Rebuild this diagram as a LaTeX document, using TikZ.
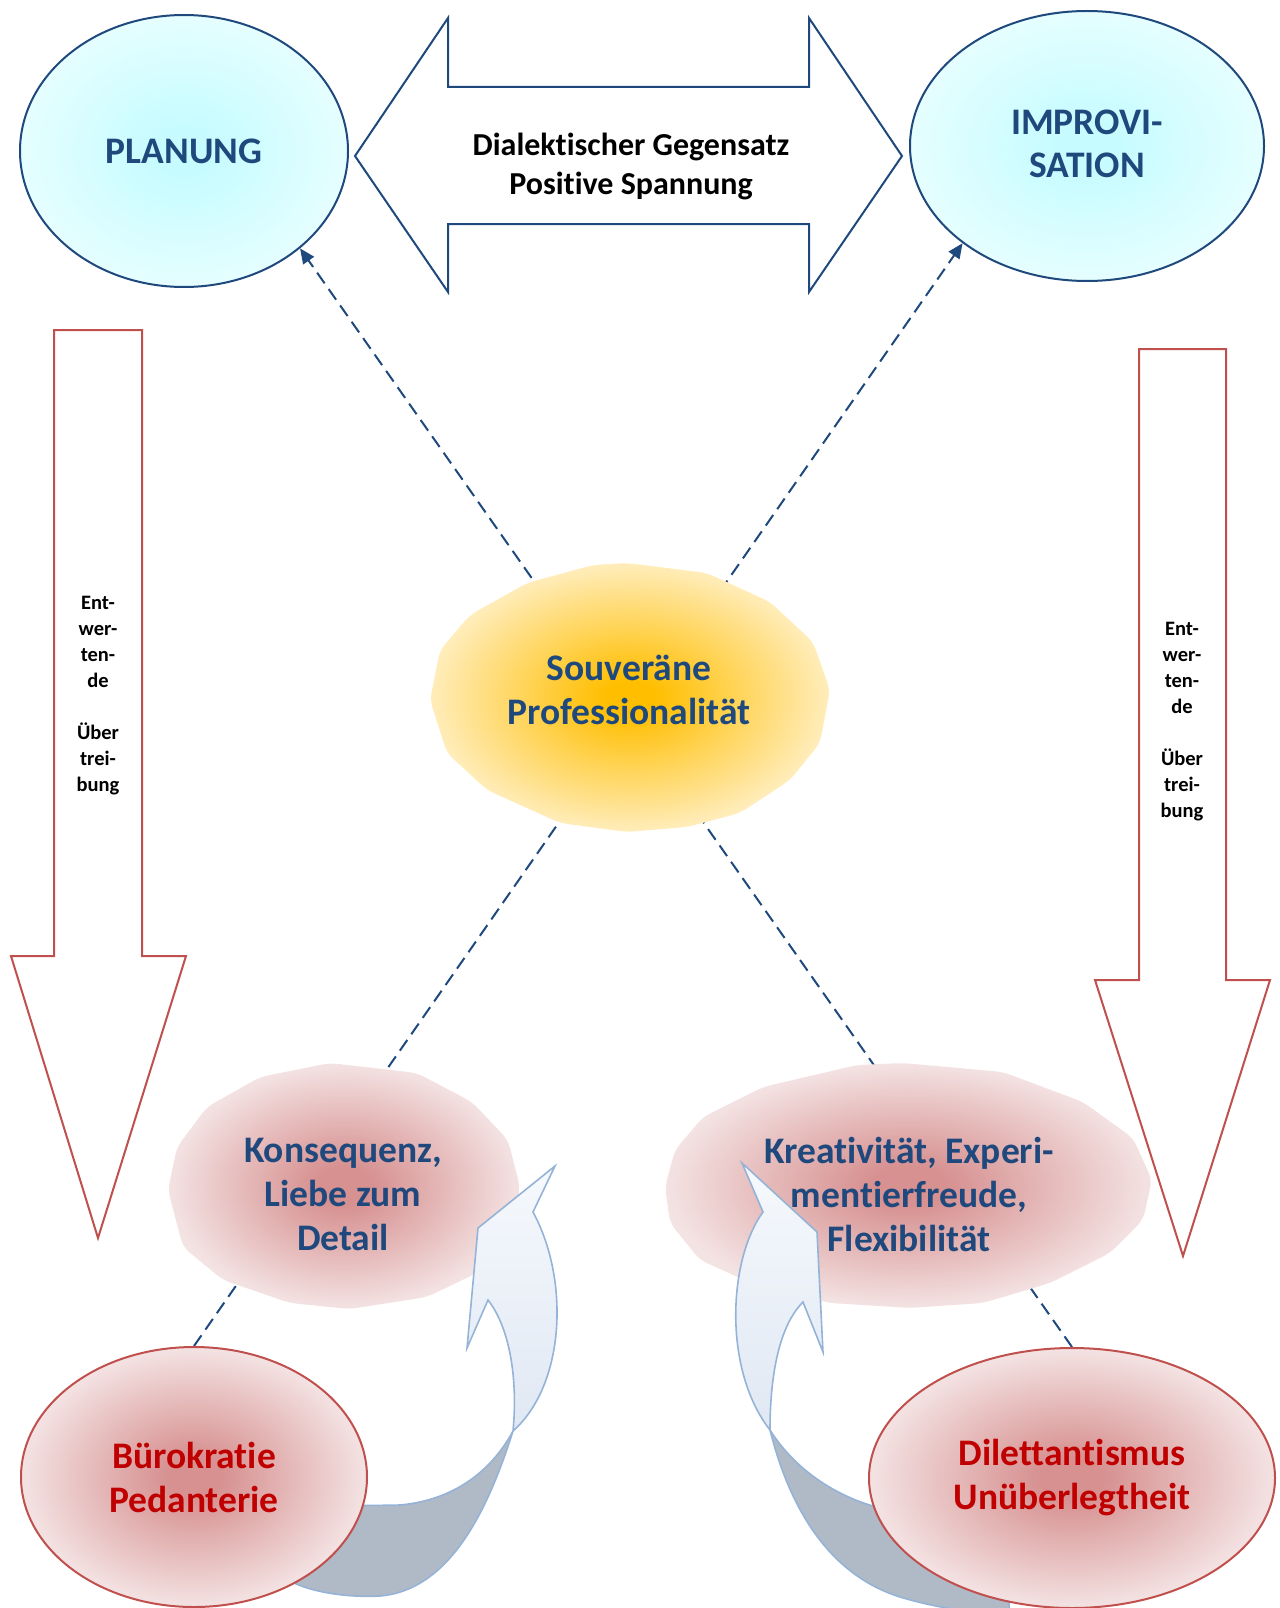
\documentclass[tikz,border=0pt]{standalone}
\usepackage{fontspec}
\setmainfont{Carlito}[Ligatures=NoCommon]
\usetikzlibrary{arrows.meta, shapes.geometric}
\pgfdeclarelayer{back}
\pgfsetlayers{back,main}

\definecolor{capblue}{RGB}{31,73,125}
\definecolor{txtred}{RGB}{192,0,0}
\definecolor{redline}{RGB}{192,80,77}
\definecolor{cyanin}{RGB}{198,252,255}
\definecolor{cyanout}{RGB}{243,255,255}
\definecolor{sunin}{RGB}{255,190,0}
\definecolor{sunout}{RGB}{255,241,204}
\definecolor{rosein}{RGB}{215,145,145}
\definecolor{roseout}{RGB}{244,227,227}
\definecolor{curvedge}{RGB}{149,179,215}
\definecolor{curvtop}{RGB}{246,249,253}
\definecolor{curvbot}{RGB}{224,232,243}
\definecolor{twistgrey}{RGB}{176,186,199}

\pgfdeclareradialshading{iceglow}{\pgfpoint{0bp}{0bp}}{color(0bp)=(cyanin); color(4bp)=(cyanin); color(34bp)=(cyanout); color(50bp)=(cyanout)}
\pgfdeclareradialshading{sunglow}{\pgfpoint{0bp}{0bp}}{color(0bp)=(sunin); color(3bp)=(sunin); color(27bp)=(sunout); color(50bp)=(sunout)}
\pgfdeclareradialshading{roseglow}{\pgfpoint{0bp}{0bp}}{color(0bp)=(rosein); color(4bp)=(rosein); color(25bp)=(roseout); color(50bp)=(roseout)}

\begin{document}
\begin{tikzpicture}[
    x=1pt, y=-1pt,
    bigfont/.style={font=\bfseries\fontsize{37.5}{44}\selectfont},
    pole/.style={ellipse, draw=capblue, line width=2pt, shade, shading=iceglow,
                 inner sep=0pt, align=center, text=capblue, bigfont},
    vice/.style={ellipse, draw=redline, line width=2pt, shade, shading=roseglow,
                 inner sep=0pt, minimum height=260pt, align=center, text=txtred, bigfont},
    blobtext/.style={align=center, text=capblue, bigfont},
    hinttext/.style={align=center, font=\bfseries\fontsize{20.5}{26}\selectfont},
    bigarrow/.style={draw=capblue, line width=2pt, fill=white},
    downarrow/.style={draw=redline, line width=2pt, fill=white},
    link/.style={draw=capblue, line width=2pt, dash pattern=on 13pt off 7pt},
    tip/.style={-{Triangle[length=15pt,width=13pt]}},
    curvlight/.style={draw=curvedge, line width=1.6pt, top color=curvtop, bottom color=curvbot},
    curvdark/.style={draw=curvedge, line width=1.6pt, fill=twistgrey},
]
\clip (0,0) rectangle (1279,1608);

% Dialectic double arrow
\path[bigarrow] (355,156) -- (448,18) -- (448,87) -- (809,87) -- (809,18) -- (902,156)
    -- (809,292) -- (809,224) -- (448,224) -- (448,292) -- cycle;
\node[align=center, font=\bfseries\fontsize{32}{39}\selectfont] (gegen) at (631,166)
    {Dialektischer Gegensatz\\Positive Spannung};

% Exaggeration arrows
\path[downarrow] (54,330) -- (142,330) -- (142,956) -- (186,956) -- (98,1238)
    -- (11,956) -- (54,956) -- cycle;
\node[hinttext] (lefthint) at (98,696) {Ent-\\wer-\\ten-\\de\\[26pt]Über\\trei-\\bung};
\path[downarrow] (1139,349) -- (1226,349) -- (1226,980) -- (1270,980) -- (1183,1256)
    -- (1095,980) -- (1139,980) -- cycle;
\node[hinttext] (righthint) at (1182,722) {Ent-\\wer-\\ten-\\de\\[26pt]Über\\trei-\\bung};

% Poles
\node[pole, minimum width=328pt, minimum height=272pt] (plan) at (184,151) {PLANUNG};
\node[pole, minimum width=354pt, minimum height=270pt] (impr) at (1087,146)
    {\raisebox{5pt}{IMPROVI-}\\[-1pt]\raisebox{5pt}{SATION}};

% Centre
\shade[shading=sunglow, rounded corners=8pt] (593,565) -- (627,563) -- (707,573) -- (770,602)
    -- (813,642) -- (830,690) -- (820,743) -- (790,780) -- (740,813) -- (687,827) -- (627,832)
    -- (560,823) -- (487,790) -- (447,753) -- (430,700) -- (440,650) -- (470,615) -- (527,583) -- cycle;
\node[blobtext] (souv) at (629,690) {Souveräne\\Professionalität};

% Virtues
\shade[shading=roseglow, rounded corners=8pt] (330,1063) -- (417,1073) -- (472,1102) -- (508,1140)
    -- (520,1187) -- (513,1227) -- (477,1273) -- (427,1297) -- (350,1309) -- (290,1303)
    -- (223,1280) -- (183,1247) -- (168,1190) -- (177,1147) -- (207,1107) -- (260,1077) -- cycle;
\node[blobtext] (kons) at (343,1194) {Konsequenz,\\Liebe zum\\Detail};
\shade[shading=roseglow, rounded corners=8pt] (857,1065) -- (903,1063) -- (1003,1072) -- (1083,1102)
    -- (1133,1138) -- (1152,1180) -- (1143,1220) -- (1110,1253) -- (1050,1283) -- (983,1303)
    -- (910,1308) -- (830,1303) -- (760,1287) -- (700,1260) -- (670,1223) -- (665,1187)
    -- (675,1150) -- (703,1117) -- (763,1087) -- cycle;
\node[blobtext] (krea) at (909,1194) {Kreativität, Experi-\\mentierfreude,\\Flexibilität};

% Turning arrows
\path[curvdark] (513,1431) .. controls (488,1510) and (450,1590) .. (380,1596)
    .. controls (340,1598) and (300,1590) .. (280,1575) -- (300,1502)
    .. controls (340,1506) .. (400,1505) .. controls (455,1500) and (492,1470) .. (513,1431) -- cycle;
\path[curvlight] (513,1431) .. controls (518,1380) and (510,1328) .. (488,1300) -- (467,1348)
    -- (478,1228) -- (555,1166) -- (533,1212) .. controls (570,1280) and (565,1385) .. (513,1431) -- cycle;
\path[curvdark] (770,1430) .. controls (790,1510) and (830,1575) .. (900,1597)
    .. controls (940,1609) and (980,1614) .. (1010,1614) -- (1000,1520) -- (880,1508)
    .. controls (830,1495) and (792,1465) .. (770,1430) -- cycle;
\path[curvlight] (770,1430) .. controls (770,1390) and (775,1330) .. (803,1302) -- (823,1352)
    -- (817,1232) -- (742,1163) -- (763,1212) .. controls (728,1260) and (723,1370) .. (770,1430) -- cycle;

% Extremes
\node[vice, minimum width=346pt] (buro) at (194,1477) {Bürokratie\\Pedanterie};
\node[vice, minimum width=406pt] (dile) at (1072,1478) {Dilettantismus\\Unüberlegtheit};

% Cross links
\begin{pgfonlayer}{back}
\draw[link, tip] (dile.north) -- (plan.-40);
\draw[link, tip] (buro.north) -- (impr.218);
\end{pgfonlayer}

\end{tikzpicture}
\end{document}
